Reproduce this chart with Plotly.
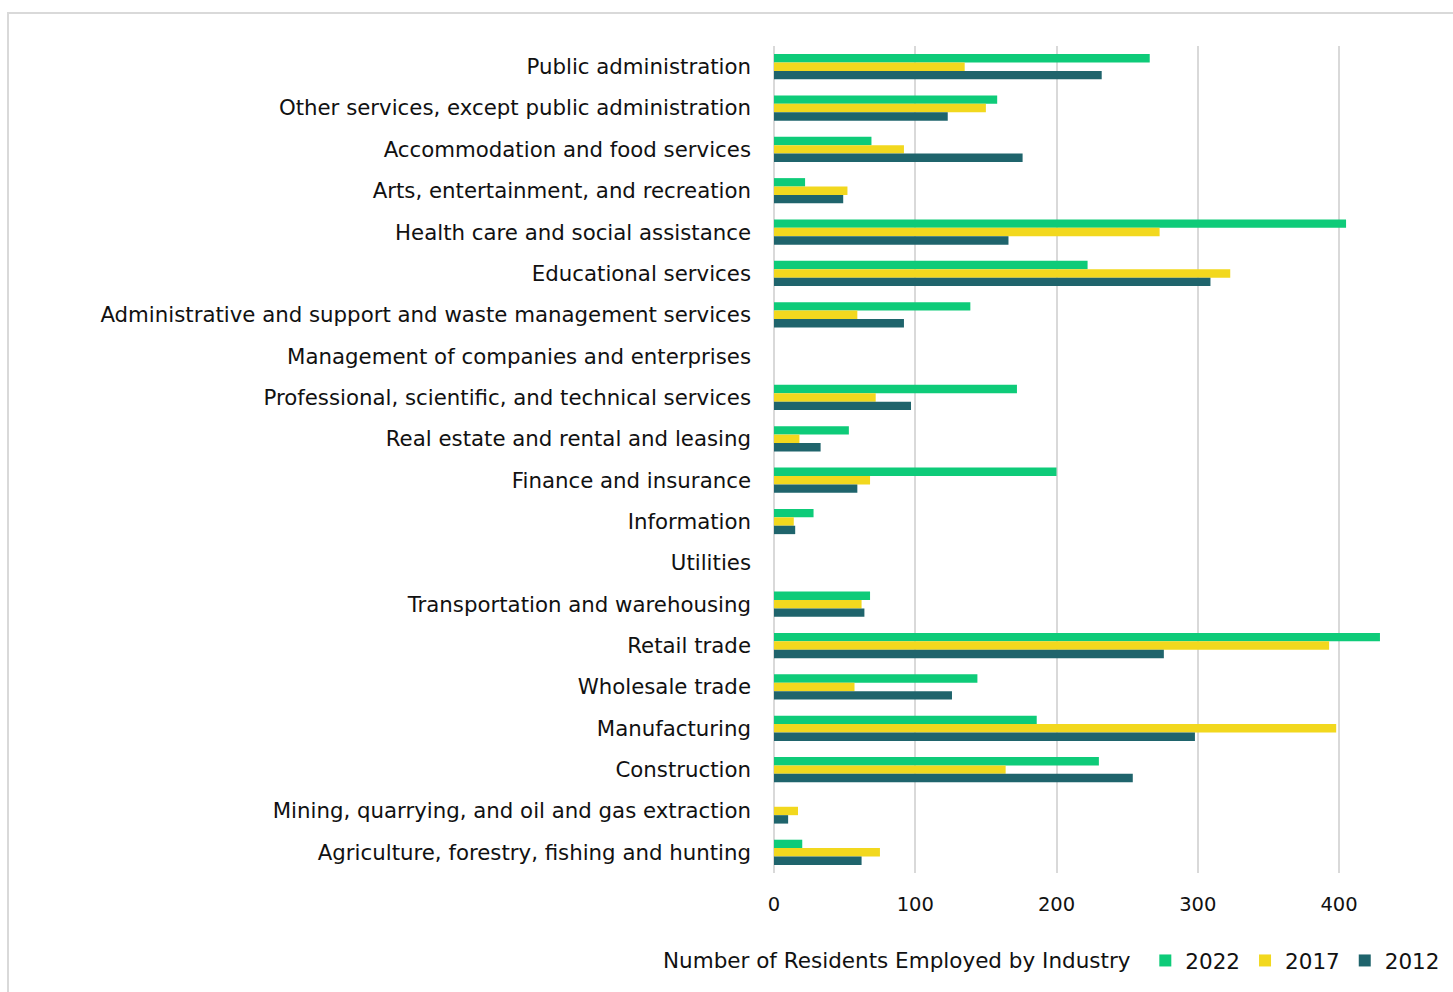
import plotly.graph_objects as go

categories = [
    "Public administration",
    "Other services, except public administration",
    "Accommodation and food services",
    "Arts, entertainment, and recreation",
    "Health care and social assistance",
    "Educational services",
    "Administrative and support and waste management services",
    "Management of companies and enterprises",
    "Professional, scientific, and technical services",
    "Real estate and rental and leasing",
    "Finance and insurance",
    "Information",
    "Utilities",
    "Transportation and warehousing",
    "Retail trade",
    "Wholesale trade",
    "Manufacturing",
    "Construction",
    "Mining, quarrying, and oil and gas extraction",
    "Agriculture, forestry, fishing and hunting",
]

v2022 = [266, 158, 69, 22, 405, 222, 139, 0, 172, 53, 200, 28, 0, 68, 429, 144, 186, 230, 0, 20]
v2017 = [135, 150, 92, 52, 273, 323, 59, 0, 72, 18, 68, 14, 0, 62, 393, 57, 398, 164, 17, 75]
v2012 = [232, 123, 176, 49, 166, 309, 92, 0, 97, 33, 59, 15, 0, 64, 276, 126, 298, 254, 10, 62]

series = [("2022", v2022, "#0ECB79"), ("2017", v2017, "#F2D81E"), ("2012", v2012, "#1F646C")]

FONT = "DejaVu Sans"

fig = go.Figure()
for name, vals, col in series:
    fig.add_trace(go.Bar(
        y=categories, x=vals, name=name, orientation="h",
        marker=dict(color=col, line=dict(width=0)),
    ))

L, R = 774, 1452
T, B = 46, 873
W, H = 1453, 992

fig.update_layout(
    width=W, height=H,
    margin=dict(l=L, r=W - R, t=T, b=H - B, autoexpand=False),
    paper_bgcolor="white", plot_bgcolor="white",
    barmode="group", bargap=0.39, bargroupgap=0,
    font=dict(family=FONT, size=20, color="#111111"),
    xaxis=dict(range=[0, 480], tickvals=[0, 100, 200, 300, 400],
               showgrid=True, gridcolor="#D9D9D9", gridwidth=2,
               zeroline=True, zerolinecolor="#D9D9D9", zerolinewidth=2,
               showline=False, ticks="", ticklabelstandoff=17,
               tickfont=dict(size=19.5)),
    yaxis=dict(autorange="reversed", showgrid=False, ticks="",
               ticklabelstandoff=22, tickfont=dict(size=21.3)),
    legend=dict(orientation="h", x=(1445 - L) / (R - L), xanchor="right", y=-0.081, yanchor="top",
                title=dict(text="Number of Residents Employed by Industry ", side="left",
                           font=dict(size=21.5)),
                font=dict(size=21.5), itemwidth=30, traceorder="normal",
                bgcolor="rgba(0,0,0,0)"),
    shapes=[dict(type="rect", xref="paper", yref="paper",
                 x0=(8 - L) / (R - L), x1=1.2, y0=-0.5, y1=(B - 13) / (B - T),
                 line=dict(color="#D9D9D9", width=2), fillcolor="rgba(0,0,0,0)", layer="below")],
)

fig.write_html("out.html")
